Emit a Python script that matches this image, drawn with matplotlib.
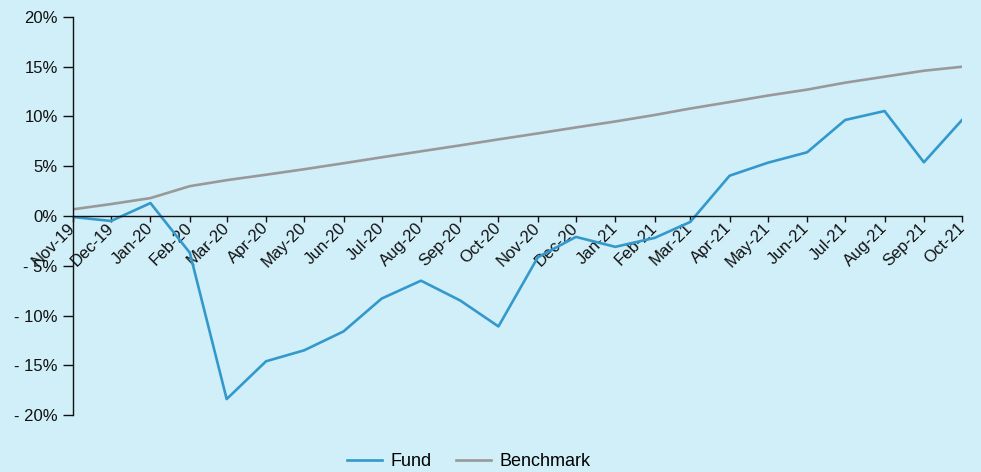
import numpy as np
import pandas as pd
import matplotlib
matplotlib.use('Agg')
import matplotlib.pyplot as plt
import matplotlib.dates as mdates
from matplotlib.ticker import FuncFormatter, MultipleLocator

# data (monthly, % return)
months = ['Nov-19', 'Dec-19', 'Jan-20', 'Feb-20', 'Mar-20', 'Apr-20', 'May-20', 'Jun-20',
          'Jul-20', 'Aug-20', 'Sep-20', 'Oct-20', 'Nov-20', 'Dec-20', 'Jan-21', 'Feb-21',
          'Mar-21', 'Apr-21', 'May-21', 'Jun-21', 'Jul-21', 'Aug-21', 'Sep-21', 'Oct-21']
fund = [-0.1, -0.5, 1.3, -3.7, -18.4, -14.6, -13.5, -11.6, -8.3, -6.5, -8.5, -11.1,
        -4.15, -2.1, -3.1, -2.2, -0.6, 4.05, 5.35, 6.4, 9.65, 10.55, 5.4, 9.65]
benchmark = [0.67, 1.2, 1.8, 3.0, 3.6, 4.15, 4.7, 5.3, 5.9, 6.5, 7.1, 7.7,
             8.3, 8.9, 9.5, 10.15, 10.8, 11.45, 12.1, 12.7, 13.4, 14.0, 14.6, 15.0]

dates = pd.to_datetime(months, format='%b-%y')

plt.rcParams['font.family'] = ['Liberation Sans', 'DejaVu Sans']
plt.rcParams['font.size'] = 12

bg = '#d0eff9'
fig = plt.figure(figsize=(9.81, 4.72), dpi=100, facecolor=bg)
ax = fig.add_axes([73 / 981, 1 - 415 / 472, (962 - 73) / 981, (415 - 17) / 472])
ax.set_facecolor(bg)

ax.plot(dates, fund, color='#3399cc', linewidth=1.9, label='Fund')
ax.plot(dates, benchmark, color='#999999', linewidth=1.9, label='Benchmark')

ax.set_xlim(dates[0], dates[-1])
ax.set_ylim(-20, 20)
ax.yaxis.set_major_locator(MultipleLocator(5))


def pct(v, pos):
    v = int(round(v))
    if v < 0:
        return '- %d%%' % (-v)
    return '%d%%' % v


ax.yaxis.set_major_formatter(FuncFormatter(pct))

ax.spines['top'].set_visible(False)
ax.spines['right'].set_visible(False)
ax.spines['bottom'].set_position(('data', 0))
for s in ['left', 'bottom']:
    ax.spines[s].set_linewidth(1.0)
    ax.spines[s].set_color('#111111')

ax.tick_params(axis='y', direction='out', length=7, width=1.0, colors='#111111', pad=4)
ax.tick_params(axis='x', direction='out', length=4, width=1.0, colors='#111111', pad=3)

# 倾斜的月份标签，右端对齐刻度
ax.set_xticks(dates, labels=months, rotation=45, ha='right', va='center',
              rotation_mode='anchor')

leg = ax.legend(loc='lower center', bbox_to_anchor=(0.445, -0.18), ncol=2, frameon=False,
                fontsize=13, handlelength=1.95, columnspacing=1.35, handletextpad=0.45)

fig.savefig('out.png', dpi=100, facecolor=bg)
